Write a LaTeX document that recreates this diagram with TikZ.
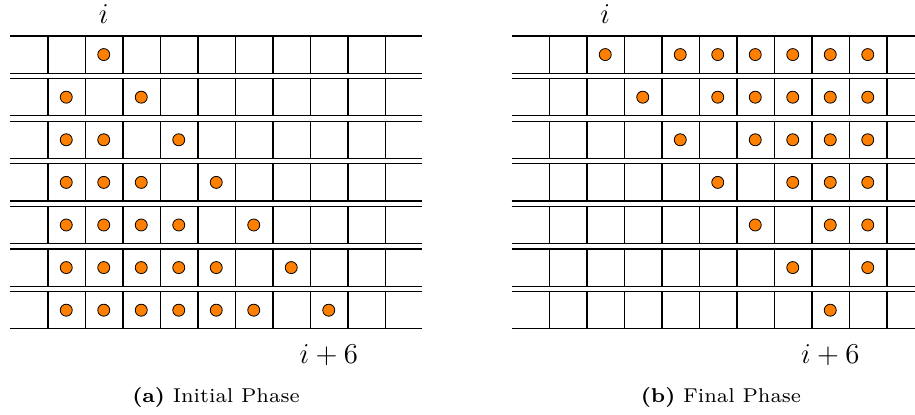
\documentclass[tikz,border=0pt]{standalone}
\usepackage{amsmath}
\usepackage{graphicx}
\usepackage{xcolor}
\usepackage{tikz}
\usetikzlibrary{positioning}
\definecolor{tokorange}{HTML}{FF8000}
\newcommand{\captext}[1]{\scalebox{1.43}{\fontsize{7}{8.5}\selectfont #1}}

\begin{document}
\begin{tikzpicture}[x=0.5pt, y=-0.5pt,
  grid/.style={line width=0.6pt, black},
  tok/.style={circle, draw=black, fill=tokorange, line width=0.4pt,
    inner sep=0pt, minimum size=6pt},
  idx/.style={font=\fontsize{14}{16}\selectfont},
  captxt/.style={inner sep=0pt}
]
  \useasboundingbox (0,0) rectangle (915,415);
  \clip (0,0) rectangle (915,415);

  % rows of cells, both phases
  \foreach \dx in {0,501.5} {
    \foreach \r in {0,...,6} {
      \pgfmathsetmacro{\rowtop}{36+42.6*\r}
      \pgfmathsetmacro{\rowbot}{\rowtop+37.2}
      \draw[grid] ({10+\dx},\rowtop) -- ({422+\dx},\rowtop);
      \draw[grid] ({10+\dx},\rowbot) -- ({422+\dx},\rowbot);
      \foreach \k in {0,...,9}
        \draw[grid] ({48+37.5*\k+\dx},\rowtop) -- ({48+37.5*\k+\dx},\rowbot);
    }
  }

  % initial phase
  \foreach \r/\cells in {0/{2}, 1/{1,3}, 2/{1,2,4}, 3/{1,2,3,5},
      4/{1,2,3,4,6}, 5/{1,2,3,4,5,7}, 6/{1,2,3,4,5,6,8}} {
    \foreach \c in \cells
      \node[tok] (a-\r-\c) at ({28.75+37.5*\c},{54.6+42.6*\r}) {};
  }
  \node[idx] (a-i)  at (103.75,14) {$i$};
  \node[idx] (a-i6) at (328.75,355) {$i+6$};
  \node[captxt] (a-cap) at (216,397) {\captext{\textbf{(a)} Initial Phase}};

  % final phase
  \foreach \r/\cells in {0/{2,4,5,6,7,8,9}, 1/{3,5,6,7,8,9}, 2/{4,6,7,8,9},
      3/{5,7,8,9}, 4/{6,8,9}, 5/{7,9}, 6/{8}} {
    \foreach \c in \cells
      \node[tok] (b-\r-\c) at ({530.25+37.5*\c},{54.6+42.6*\r}) {};
  }
  \node[idx] (b-i)  at (605.25,14) {$i$};
  \node[idx] (b-i6) at (830.25,355) {$i+6$};
  \node[captxt] (b-cap) at (721,397) {\captext{\textbf{(b)} Final Phase}};
\end{tikzpicture}
\end{document}
